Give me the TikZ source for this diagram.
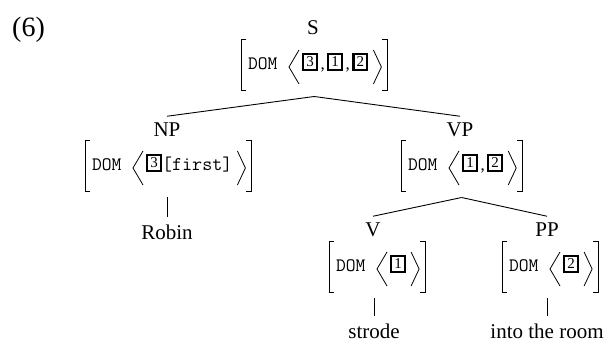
\documentclass[tikz,border=0pt]{standalone}
\usepackage{fontspec}
\setmainfont{Liberation Serif}
\usetikzlibrary{calc,fit}
\newcommand\tagbox[1]{\raisebox{3pt}{\setlength\fboxrule{2.2pt}\setlength\fboxsep{2.1pt}\fbox{\fontsize{15}{18}\selectfont #1}}}
\newcommand\lcomma{\kern2.4pt,\kern2.4pt}
\newcommand\avmnode[4]{%
  \node[domtext, anchor=base west] (#1dom) at (#2,#3) {DOM};
  \node[listtext, anchor=base west] (#1list) at (#2+54,#3) {#4};
  \draw[angbr] ($(#1list.base west)+(-3,-20)$) -- ($(#1list.base west)+(-13,-3)$) -- ($(#1list.base west)+(-3,14)$);
  \draw[angbr] ($(#1list.base east)+(5,-20)$) -- ($(#1list.base east)+(13,-3)$) -- ($(#1list.base east)+(5,14)$);
  \coordinate (#1tl) at ($(#1dom.base west)+(-7,-31)$);
  \coordinate (#1br) at ($(#1list.base east)+(19,20)$);
  \draw[sqbr] ($(#1tl)+(5,0)$) -- (#1tl) -- (#1tl |- #1br) -- ($(#1tl |- #1br)+(5,0)$);
  \draw[sqbr] ($(#1br |- #1tl)+(-5,0)$) -- (#1br |- #1tl) -- (#1br) -- ($(#1br)+(-5,0)$);
  \node[fit=(#1tl)(#1br), inner xsep=0pt, inner ysep=6.5pt, outer sep=0pt] (#1avm) {};
}
\tikzset{
  domtext/.style={inner sep=0pt, outer sep=0pt, font=\fontsize{19}{22}\selectfont\ttfamily},
  listtext/.style={inner sep=0pt, outer sep=0pt, font=\fontsize{17}{20}\selectfont},
  angbr/.style={line width=0.8pt, line join=miter},
  sqbr/.style={line width=0.8pt},
  branch/.style={line width=0.9pt},
  cat/.style={inner sep=0pt, outer xsep=0pt, outer ysep=7pt, anchor=base, font=\fontsize{21}{25}\selectfont},
  leaf/.style={inner sep=0pt, outer xsep=0pt, outer ysep=8.5pt, anchor=base, font=\fontsize{21}{25}\selectfont},
  exnum/.style={inner sep=0pt, anchor=base west, font=\fontsize{28}{32}\selectfont}
}
\begin{document}
\begin{tikzpicture}[x=1pt,y=-1pt]
\useasboundingbox (0,0) rectangle (605,344);
\node[exnum] (ex) at (12,37) {(6)};
% categories
\node[cat] (S) at (313,35) {S};
\node[cat] (NP) at (167,137) {NP};
\node[cat] (VP) at (460,137) {VP};
\node[cat] (V) at (373,237) {V};
\node[cat] (PP) at (547,237) {PP};
% AVMs
\avmnode{S}{248}{70}{\tagbox{3}\lcomma\tagbox{1}\lcomma\tagbox{2}}
\avmnode{NP}{92}{171}{\tagbox{3}{\fontsize{19.5}{22}\selectfont\ttfamily[first]}}
\avmnode{VP}{408}{171}{\tagbox{1}\lcomma\tagbox{2}}
\avmnode{V}{336}{272}{\tagbox{1}}
\avmnode{PP}{509}{272}{\tagbox{2}}
% leaves
\node[leaf] (robin) at (167,240) {Robin};
\node[leaf] (strode) at (374,339) {strode};
\node[leaf] (room) at (547,339) {into the room};
% branches
\draw[branch] (Savm.south) -- (NP.north);
\draw[branch] (Savm.south) -- (VP.north);
\draw[branch] (VPavm.south) -- (V.north);
\draw[branch] (VPavm.south) -- (PP.north);
\draw[branch] (NPavm.south -| robin.north) -- (robin.north);
\draw[branch] (Vavm.south -| strode.north) -- (strode.north);
\draw[branch] (PPavm.south -| room.north) -- (room.north);
\end{tikzpicture}
\end{document}
